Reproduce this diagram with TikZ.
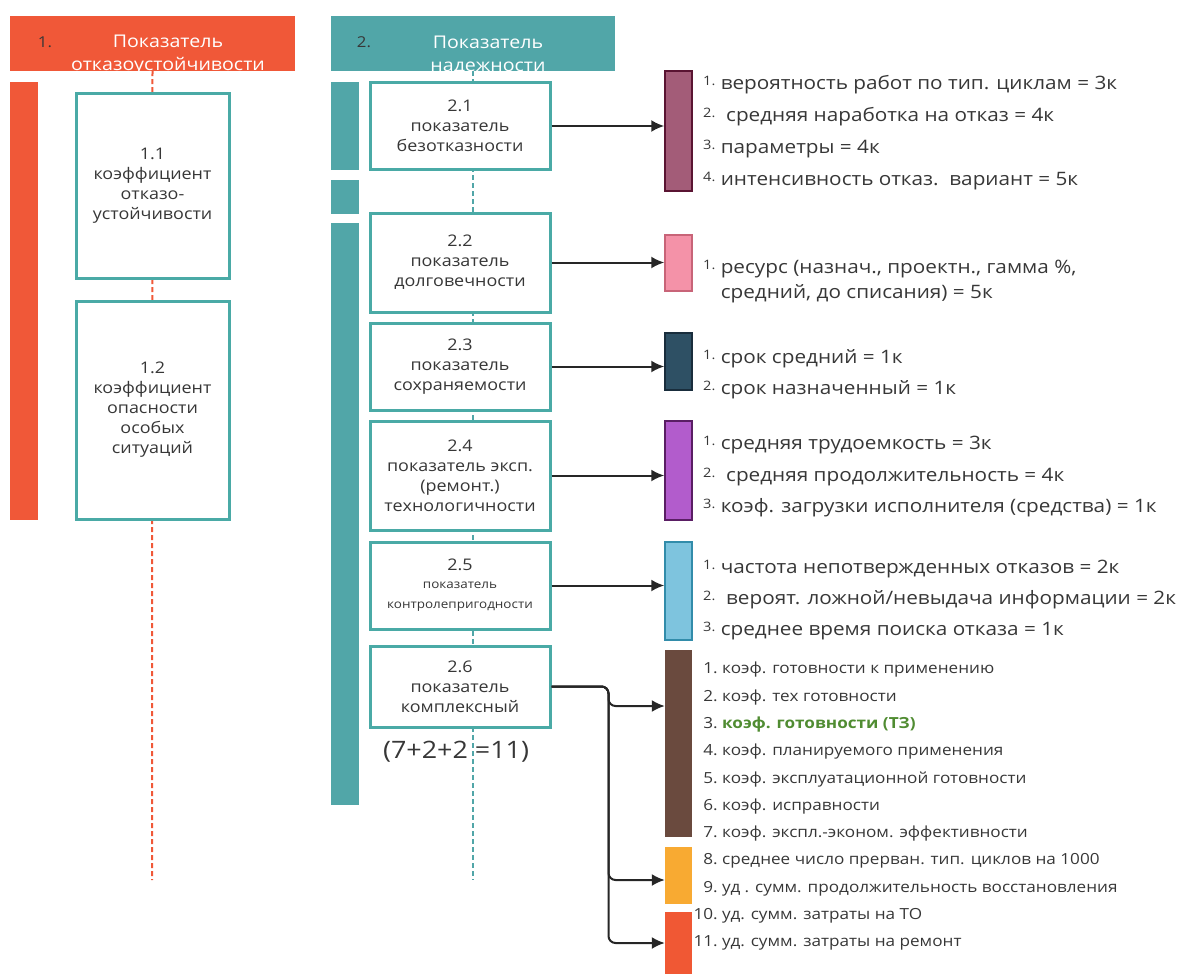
\documentclass[tikz,border=0pt]{standalone}
\usepackage{fontspec}
\setmainfont{Open Sans}[FakeStretch=1.12]
\usetikzlibrary{arrows.meta, positioning}
\definecolor{orng}{RGB}{240,88,56}
\definecolor{tealc}{RGB}{81,166,168}
\definecolor{boxc}{RGB}{74,170,166}
\definecolor{txtc}{RGB}{55,55,55}
\definecolor{grn}{RGB}{80,140,50}
\definecolor{mauve}{RGB}{163,92,120}
\definecolor{mauved}{RGB}{90,20,50}
\definecolor{pinkc}{RGB}{244,146,168}
\definecolor{pinkd}{RGB}{200,100,120}
\definecolor{dteal}{RGB}{46,80,100}
\definecolor{dteald}{RGB}{25,45,60}
\definecolor{purp}{RGB}{178,92,204}
\definecolor{purpd}{RGB}{90,30,100}
\definecolor{lblue}{RGB}{126,196,222}
\definecolor{lblued}{RGB}{50,140,170}
\definecolor{brwn}{RGB}{106,74,62}
\definecolor{ambr}{RGB}{248,170,50}
\definecolor{redc}{RGB}{240,88,52}
\tikzstyle{hdr} = [rectangle, minimum width=285pt, minimum height=55pt, inner sep=0pt]
\tikzstyle{htxt} = [align=center, text=white, inner sep=0pt, font=\fontsize{17.5}{23}\selectfont]
\tikzstyle{ibox} = [draw=boxc, line width=3pt, fill=white, rectangle, align=center, text=txtc, inner sep=0pt, font=\fontsize{16}{20}\selectfont]
\tikzstyle{bar} = [rectangle, minimum width=27pt, inner sep=0pt]
\tikzstyle{lst} = [anchor=north west, align=left, text=txtc, inner sep=0pt]
\newcommand{\sn}[1]{\raisebox{4pt}{\fontsize{13}{13}\selectfont #1.}}
\newcommand{\rn}[1]{\makebox[29pt][r]{#1.\ }}

\begin{document}
\begin{tikzpicture}[x=1pt, y=-1pt, >={Latex[length=13pt,width=12pt]}]
  \useasboundingbox (0,0) rectangle (1181,974);
  % headers
  \node[hdr, fill=orng] (h1) at (152.5,43.5) {};
  \node[hdr, fill=tealc, minimum width=284pt] (h2) at (473,43.5) {};
  \node[text=txtc, font=\fontsize{15}{15}\selectfont] (h1n) at (45,42) {1.};
  \node[text=txtc, font=\fontsize{15}{15}\selectfont] (h2n) at (364,42) {2.};
  % dashed spines
  \coordinate (e1) at (152,880);
  \coordinate (e2) at (473,880);
  \draw[orng, line width=2pt, dash pattern=on 5pt off 3pt] (h1.south) -- (e1);
  \draw[tealc, line width=2pt, dash pattern=on 5pt off 3pt] (h2.south) -- (e2);
  \node[htxt] (h1t) at (168,55) {Показатель\\отказоустойчивости};
  \node[htxt] (h2t) at (488,55) {Показатель\\надежности};

  % left column
  \node[bar, fill=orng, minimum width=28pt, minimum height=438pt] (lb) at (24,301) {};
  \node[ibox, minimum width=153pt, minimum height=185pt] (b11) at (152.5,185.5) {1.1\\коэффициент\\отказо-\\устойчивости};
  \node[ibox, minimum width=153pt, minimum height=218pt] (b12) at (152.5,410) {1.2\\коэффициент\\опасности\\особых\\ситуаций};

  % right column
  \node[bar, fill=tealc, minimum width=28pt, minimum height=88pt] (tb1) at (345,126) {};
  \node[bar, fill=tealc, minimum width=28pt, minimum height=34pt] (tb2) at (345,197) {};
  \node[bar, fill=tealc, minimum width=28pt, minimum height=582pt] (tb3) at (345,514) {};
  \node[ibox, minimum width=180pt, minimum height=86pt] (b21) at (460,126) {2.1\\показатель\\безотказности};
  \node[ibox, minimum width=180pt, minimum height=99pt] (b22) at (460,262.5) {2.2\\показатель\\долговечности};
  \node[ibox, minimum width=180pt, minimum height=87pt] (b23) at (460,366.5) {2.3\\показатель\\сохраняемости};
  \node[ibox, minimum width=180pt, minimum height=109pt] (b24) at (460,475.5) {2.4\\показатель эксп.\\(ремонт.)\\технологичности};
  \node[ibox, minimum width=180pt, minimum height=87pt] (b25) at (460,585.5) {2.5\\[-2pt]{\fontsize{12}{16}\selectfont показатель}\\{\fontsize{12}{16}\selectfont контролепригодности}};
  \node[ibox, minimum width=180pt, minimum height=81pt] (b26) at (460,686.5) {2.6\\показатель\\комплексный};
  \node[text=txtc, font=\fontsize{24}{24}\selectfont] (sum) at (456,752) {(7+2+2 =11)};

  % coloured bars
  \node[bar, fill=mauve, draw=mauved, line width=1.5pt, minimum height=120pt] (bm) at (678.5,131) {};
  \node[bar, fill=pinkc, draw=pinkd, line width=1.5pt, minimum height=56pt] (bp) at (678.5,263) {};
  \node[bar, fill=dteal, draw=dteald, line width=1.5pt, minimum height=57pt] (bd) at (678.5,361.5) {};
  \node[bar, fill=purp, draw=purpd, line width=1.5pt, minimum height=99pt] (bpu) at (678.5,470.5) {};
  \node[bar, fill=lblue, draw=lblued, line width=1.5pt, minimum height=98pt] (bl) at (678.5,591) {};
  \node[bar, fill=brwn, minimum height=187pt] (bbr) at (678.5,743.5) {};
  \node[bar, fill=ambr, minimum height=57pt] (bam) at (678.5,875.5) {};
  \node[bar, fill=redc, minimum height=62pt] (bred) at (678.5,943) {};

  % arrows
  \draw[->, line width=2pt, black!85] (b21.east) -- (b21.east -| bm.west);
  \draw[->, line width=2pt, black!85] (b22.east) -- (b22.east -| bp.west);
  \draw[->, line width=2pt, black!85] (b23.east) -- (b23.east -| bd.west);
  \draw[->, line width=2pt, black!85] (b24.east) -- (b24.east -| bpu.west);
  \draw[->, line width=2pt, black!85] (b25.east) -- (b25.east -| bl.west);
  \draw[->, line width=2pt, black!85, rounded corners=7pt] (b26.east) -- ++(57,0) |- ([yshift=37.5pt]bbr.west);
  \draw[->, line width=2pt, black!85, rounded corners=7pt] (b26.east) -- ++(57,0) |- ([yshift=-4.5pt]bam.west);
  \draw[->, line width=2pt, black!85, rounded corners=7pt] (b26.east) -- ++(57,0) |- (bred.west);

  % lists
  \node[lst, font=\fontsize{18.5}{32}\selectfont] (l1) at (703,75) {\sn{1} вероятность работ по тип. циклам = 3к\\
    \sn{2}\ \ средняя наработка на отказ = 4к\\
    \sn{3} параметры = 4к\\
    \sn{4} интенсивность отказ.\ \ вариант = 5к};
  \node[lst, font=\fontsize{18.5}{25}\selectfont] (l2) at (703,260) {\sn{1} ресурс (назнач., проектн., гамма \%,\\
    \phantom{\sn{1}} средний, до списания) = 5к};
  \node[lst, font=\fontsize{18.5}{31}\selectfont] (l3) at (703,349) {\sn{1} срок средний = 1к\\
    \sn{2} срок назначенный = 1к};
  \node[lst, font=\fontsize{18.5}{31.5}\selectfont] (l4) at (703,436) {\sn{1} средняя трудоемкость = 3к\\
    \sn{2}\ \ средняя продолжительность = 4к\\
    \sn{3} коэф. загрузки исполнителя (средства) = 1к};
  \node[lst, font=\fontsize{18.5}{31}\selectfont] (l5) at (703,560) {\sn{1} частота непотвержденных отказов = 2к\\
    \sn{2}\ \ вероят. ложной/невыдача информации = 2к\\
    \sn{3} среднее время поиска отказа = 1к};
  \node[lst, font=\fontsize{15.3}{27.3}\selectfont] (l6) at (693,662) {\rn{1}коэф. готовности к применению\\
    \rn{2}коэф. тех готовности\\
    \rn{3}{\color{grn}\bfseries коэф. готовности (ТЗ)}\\
    \rn{4}коэф. планируемого применения\\
    \rn{5}коэф. эксплуатационной готовности\\
    \rn{6}коэф. исправности\\
    \rn{7}коэф. экспл.-эконом. эффективности\\
    \rn{8}среднее число прерван. тип. циклов на 1000\\
    \rn{9}уд . сумм. продолжительность восстановления\\
    \rn{10}уд. сумм. затраты на ТО\\
    \rn{11}уд. сумм. затраты на ремонт};
\end{tikzpicture}
\end{document}
